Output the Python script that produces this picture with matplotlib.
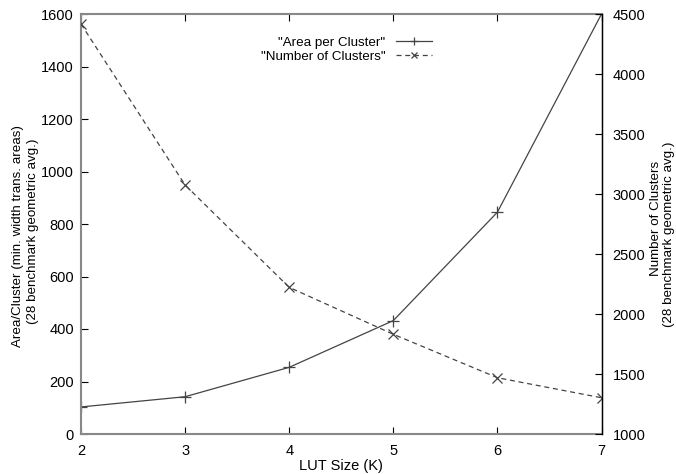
import matplotlib
matplotlib.use("Agg")
import matplotlib.pyplot as plt

# values
lut_size = [2, 3, 4, 5, 6, 7]
area_per_cluster = [103, 142, 254, 432, 845, 1600]
num_clusters = [4417, 3075, 2222, 1831, 1469, 1302]

plt.rcParams["font.family"] = ["Liberation Sans", "DejaVu Sans"]
plt.rcParams["font.size"] = 10

W, H = 676, 474
fig = plt.figure(figsize=(W / 100, H / 100), dpi=100)
ax = fig.add_axes([81 / W, 1 - 434 / H, (601.5 - 81) / W, (434 - 14) / H])
ax2 = ax.twinx()

line_col = "#444444"
l1, = ax.plot(lut_size, area_per_cluster, color=line_col, lw=0.9, marker="+",
              ms=8, mew=0.9, label='"Area per Cluster"')
l2, = ax2.plot(lut_size, num_clusters, color=line_col, lw=0.9, ls=(0, (4, 3)),
               marker="x", ms=6.5, mew=0.9, label='"Number of Clusters"')

ax.set_xlim(2, 7)
ax.set_ylim(0, 1600)
ax2.set_ylim(1000, 4500)
ax.set_yticks(range(0, 1601, 200))
ax2.set_yticks(range(1000, 4501, 500))

for name in ["left", "bottom", "top"]:
    ax.spines[name].set_color("#888888")
    ax.spines[name].set_linewidth(1.5)
ax2.spines["right"].set_color("black")
ax2.spines["right"].set_linewidth(1.0)
for name in ["left", "bottom", "top"]:
    ax2.spines[name].set_visible(False)

ax.tick_params(axis="x", direction="in", top=True, length=5, pad=7, labelsize=10.5)
ax.tick_params(axis="y", direction="in", length=5, pad=5, labelsize=10.5)
ax2.tick_params(axis="y", direction="in", length=5, pad=8, labelsize=10.5)

ax.set_xlabel("LUT Size (K)", labelpad=1, fontsize=10.5)

# axis titles placed by hand, as in the reference
def ftext(x, y, s):
    fig.text(x / W, 1 - y / H, s, rotation=90, ha="center", va="center", fontsize=9.6)

ftext(18, 236, "Area/Cluster (min. width trans. areas)")
ftext(33, 231, "(28 benchmark geometric avg.)")
ftext(656, 218, "Number of Clusters")
ftext(669, 234, "(28 benchmark geometric avg.)")

ax.legend(handles=[l1, l2], loc="upper right", bbox_to_anchor=(0.692, 0.968),
          markerfirst=False, frameon=False, handlelength=2.7, handletextpad=0.8,
          labelspacing=0.1, borderpad=0.2, fontsize=9.6, markerscale=0.75)

fig.savefig("out.png", dpi=100)
